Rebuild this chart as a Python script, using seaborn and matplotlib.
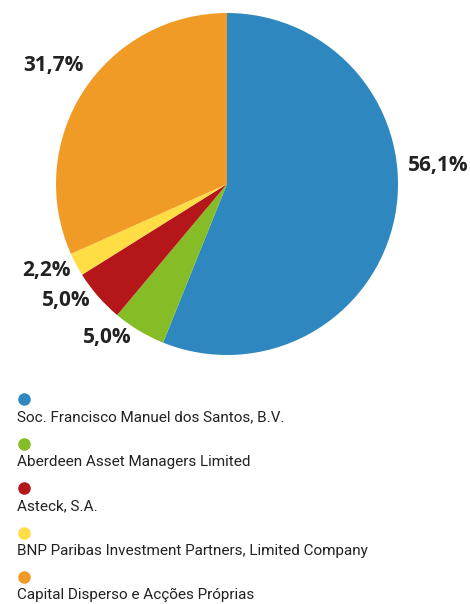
import matplotlib
matplotlib.use("Agg")
import numpy as np
import seaborn as sns
import matplotlib.pyplot as plt
from matplotlib.lines import Line2D

# ---- data ----
holders = [
    "Soc. Francisco Manuel dos Santos, B.V.",
    "Aberdeen Asset Managers Limited",
    "Asteck, S.A.",
    "BNP Paribas Investment Partners, Limited Company",
    "Capital Disperso e Acções Próprias",
]
shares = [56.1, 5.0, 5.0, 2.2, 31.7]
colors = ["#2E88BF", "#86BC25", "#B5161A", "#FFDE45", "#F09B26"]
# label placement around the pie (angle offset in degrees, radius)
label_adjust = [(16, 1.24), (-7, 1.14), (-5, 1.16), (-2.5, 1.17), (-1.5, 1.23)]

sns.set_theme(style="white")
palette = sns.color_palette(colors)
plt.rcParams["font.family"] = ["Open Sans", "DejaVu Sans"]

W, H = 470, 604
fig = plt.figure(figsize=(W / 100, H / 100), dpi=100)
fig.patch.set_facecolor("white")

# pie centre (227, 184) px, radius 171 px
cx, cy, r_px = 227, 184, 171
half = 1.32
box = 2 * half * r_px
ax = fig.add_axes([(cx - box / 2) / W, (H - cy - box / 2) / H, box / W, box / H])
wedges, _ = ax.pie(shares, colors=palette, startangle=90, counterclock=False,
                   wedgeprops=dict(linewidth=0))
ax.set_xlim(-half, half)
ax.set_ylim(-half, half)
ax.set_aspect("equal")
ax.axis("off")

for w, v, (da, rr) in zip(wedges, shares, label_adjust):
    mid = np.deg2rad((w.theta1 + w.theta2) / 2 + da)
    ax.text(rr * np.cos(mid), rr * np.sin(mid), f"{v:.1f}%".replace(".", ","),
            ha="center", va="center", fontsize=15, fontweight="bold",
            color="#222222", clip_on=False)

# ---- legend: dot above each name ----
y0, step = 399, 44.6
for i, (name, c) in enumerate(zip(holders, palette)):
    y = y0 + i * step
    fig.add_artist(Line2D([24 / W], [1 - y / H], marker="o", markersize=8,
                          color=c, linestyle="none", transform=fig.transFigure))
    fig.text(17 / W, 1 - (y + 18) / H, name, ha="left", va="center",
             fontsize=11, color="#222222", family=["Roboto", "DejaVu Sans"])

fig.savefig("out.png", dpi=100)
